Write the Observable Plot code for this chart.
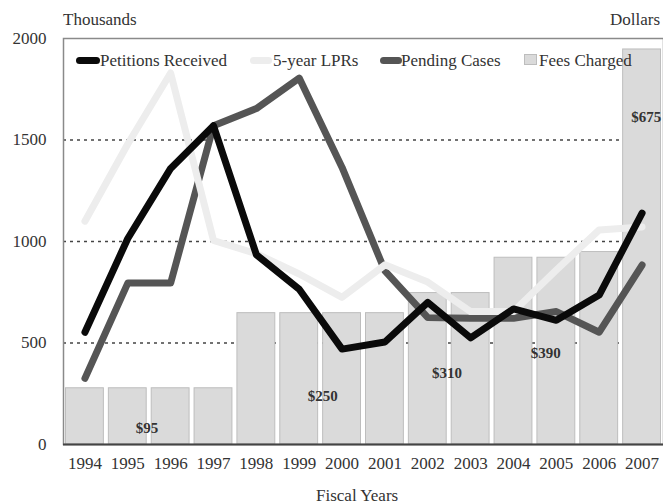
<!DOCTYPE html>
<html>
<head>
<meta charset="utf-8">
<script src="https://cdn.jsdelivr.net/npm/d3@7"></script>
<script src="https://cdn.jsdelivr.net/npm/@observablehq/plot@0.6"></script>
<style>
  html, body { margin: 0; padding: 0; background: #fff; }
  #wrap { position: relative; width: 663px; height: 504px; font-family: "Liberation Serif", "Times New Roman", serif; color: #333; }
  .lbl { position: absolute; font-size: 17px; white-space: nowrap; line-height: 1; }
  .sw { position: absolute; }
</style>
</head>
<body>
<div id="wrap"></div>
<script>
const years = [1994, 1995, 1996, 1997, 1998, 1999, 2000, 2001, 2002, 2003, 2004, 2005, 2006, 2007];
const petitionsReceived = [553, 1015, 1360, 1570, 935, 765, 470, 505, 700, 525, 668, 612, 736, 1140];
const fiveYearLPRs = [1100, 1480, 1830, 1005, 940, 840, 725, 885, 800, 655, 655, 860, 1057, 1072];
const pendingCases = [326, 795, 795, 1570, 1655, 1805, 1365, 855, 625, 622, 622, 655, 553, 884];
const feeBarHeights = [277, 277, 277, 277, 647, 647, 647, 647, 746, 746, 920, 920, 948, 1946];
const feeLabelText = ["$95", "$250", "$310", "$390", "$675"];
const feeLabelYear = [1995.45, 1999.55, 2002.45, 2004.75, 2007.1];
const feeLabelLevel = [79, 240, 350, 449, 1612];
const yTicks = [0, 500, 1000, 1500, 2000];
const gridLevels = [500, 1000, 1500];

const data = years.map((year, i) => ({
  year,
  petitions: petitionsReceived[i],
  lprs: fiveYearLPRs[i],
  pending: pendingCases[i],
  fee: feeBarHeights[i]
}));
const feeLabels = feeLabelText.map((text, i) => ({text, year: feeLabelYear[i], level: feeLabelLevel[i]}));

const chart = Plot.plot({
  width: 663,
  height: 504,
  marginTop: 38,
  marginBottom: 60,
  marginLeft: 63,
  marginRight: 0,
  style: {fontFamily: "'Liberation Serif', 'Times New Roman', serif", fontSize: "17px", color: "#333", background: "#fff"},
  x: {domain: [1993.5, 2007.5], ticks: years, tickFormat: d => String(d), tickSize: 0, tickPadding: 12, label: null},
  y: {domain: [0, 2000], ticks: yTicks, tickFormat: d => String(d), tickSize: 0, tickPadding: 17, label: null},
  marks: [
    Plot.ruleY(gridLevels, {stroke: "#444", strokeDasharray: "3,4", strokeWidth: 1.6}),
    Plot.rectY(data, {x1: d => d.year - 0.5, x2: d => d.year + 0.5, y: "fee", insetLeft: 2.5, insetRight: 2.5, fill: "#dadada", stroke: "#bdbdbd", strokeWidth: 1}),
    Plot.frame({stroke: "#8a8a8a", strokeWidth: 1.5}),
    Plot.ruleY([0], {stroke: "#444", strokeWidth: 1.8}),
    Plot.text(feeLabels, {x: "year", y: "level", text: "text", fontWeight: "bold", fontSize: 15, fill: "#333"}),
    Plot.lineY(data, {x: "year", y: "pending", stroke: "#555", strokeWidth: 7, strokeLinejoin: "round", strokeLinecap: "round"}),
    Plot.lineY(data, {x: "year", y: "lprs", stroke: "#ededed", strokeWidth: 7, strokeLinejoin: "round", strokeLinecap: "round"}),
    Plot.lineY(data, {x: "year", y: "petitions", stroke: "#0a0a0a", strokeWidth: 7, strokeLinejoin: "round", strokeLinecap: "round"})
  ]
});
const wrap = document.getElementById("wrap");
chart.style.position = "absolute";
chart.style.left = "0px";
chart.style.top = "0px";
wrap.appendChild(chart);

function addLabel(text, left, top, extra) {
  const el = document.createElement("div");
  el.className = "lbl";
  el.textContent = text;
  el.style.left = left + "px";
  el.style.top = top + "px";
  if (extra) Object.assign(el.style, extra);
  wrap.appendChild(el);
  return el;
}
function addSwatch(left, top, w, h, style) {
  const el = document.createElement("div");
  el.className = "sw";
  Object.assign(el.style, {left: left + "px", top: top + "px", width: w + "px", height: h + "px"}, style);
  wrap.appendChild(el);
}
addLabel("Thousands", 63, 11);
addLabel("Dollars", 0, 11, {left: "auto", right: "3px"});
addLabel("Fiscal Years", 316, 487);

// legend
addSwatch(76, 57, 24, 7, {background: "#0a0a0a", borderRadius: "4px"});
addLabel("Petitions Received", 100, 52);
addSwatch(250, 57, 22, 7, {background: "#ededed", borderRadius: "4px"});
addLabel("5-year LPRs", 273, 52);
addSwatch(380, 57, 22, 7, {background: "#555", borderRadius: "4px"});
addLabel("Pending Cases", 401, 52);
addSwatch(524, 54, 13, 11, {background: "#dadada", border: "1px solid #bdbdbd", boxSizing: "border-box"});
addLabel("Fees Charged", 539, 52);
</script>
</body>
</html>
